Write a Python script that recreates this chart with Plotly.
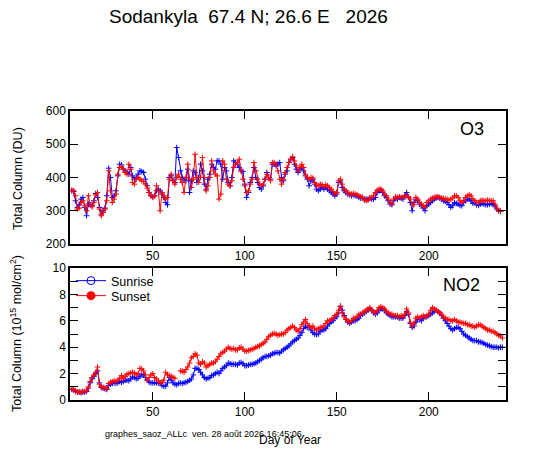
import plotly.graph_objects as go

# day numbers of the daily SAOZ measurements
o3_days = list(range(6, 240))
no2_days = list(range(6, 241))

# total ozone (DU)
o3_sunrise = [
    360, 358, 330, 310, 318, 335, 340, 310, 285, 320,
    318, 315, 330, 352, 340, 310, 290, 300, 308, 345,
    428, 400, 340, 345, 360, 405, 440, 438, 425, 420,
    415, 410, 430, 405, 395, 400, 410, 420, 418, 415,
    395, 375, 355, 345, 342, 345, 360, 365, 360, 350,
    340, 325, 318, 400, 405, 392, 385, 490, 460, 420,
    400, 395, 390, 425, 355, 390, 420, 415, 385, 400,
    440, 420, 380, 365, 395, 410, 440, 430, 425, 450,
    450, 440, 395, 430, 420, 385, 375, 400, 450, 445,
    440, 430, 420, 418, 380, 340, 355, 385, 400, 430,
    400, 385, 370, 365, 375, 395, 415, 400, 395, 440,
    440, 435, 440, 445, 400, 390, 410, 420, 445, 455,
    460, 440, 425, 415, 425, 430, 420, 405, 395, 375,
    390, 395, 380, 365, 360, 365, 370, 365, 370, 365,
    360, 355, 350, 345, 350, 385, 390, 370, 360, 355,
    350, 348, 345, 348, 345, 345, 340, 338, 340, 335,
    335, 335, 338, 335, 335, 340, 355, 360, 362, 355,
    345, 340, 330, 320, 318, 330, 338, 335, 340, 338,
    335, 345, 355, 340, 325, 300, 325, 335, 330, 320,
    315, 308, 300, 315, 320, 325, 330, 335, 338, 340,
    338, 335, 330, 328, 325, 318, 310, 315, 325, 322,
    320, 316, 315, 325, 330, 335, 335, 330, 322, 325,
    318, 316, 320, 322, 320, 318, 318, 320, 322, 318,
    315, 305, 300, 298,
]
o3_sunset = [
    362, 360, 345, 305, 308, 325, 330, 315, 300, 345,
    318, 312, 325, 348, 355, 305, 285, 295, 305, 330,
    420, 360, 325, 335, 350, 410, 430, 432, 425, 415,
    410, 440, 425, 385, 380, 395, 400, 395, 390, 388,
    380, 368, 355, 345, 340, 345, 375, 360, 300, 355,
    345, 335, 340, 395, 410, 390, 380, 400, 410, 395,
    385, 355, 400, 440, 395, 370, 395, 470, 400, 385,
    400, 460, 400, 360, 375, 400, 450, 420, 410, 405,
    335, 350, 450, 440, 395, 380, 375, 390, 430, 440,
    445, 455, 420, 395, 375, 355, 360, 380, 395, 445,
    420, 395, 380, 375, 380, 395, 410, 400, 390, 445,
    445, 440, 420, 395, 380, 395, 415, 430, 445, 455,
    462, 450, 435, 420, 430, 440, 430, 410, 400, 395,
    400, 398, 385, 375, 375, 380, 378, 372, 378, 375,
    370, 365, 358, 350, 355, 390, 395, 380, 365, 360,
    355, 350, 350, 352, 350, 348, 345, 342, 340, 332,
    330, 332, 338, 340, 345, 355, 362, 365, 365, 360,
    350, 345, 335, 325, 320, 335, 342, 340, 342, 340,
    340, 345, 345, 342, 335, 320, 318, 340, 335, 325,
    320, 315, 310, 325, 330, 335, 338, 340, 342, 342,
    340, 338, 337, 335, 335, 332, 335, 338, 345, 345,
    340, 330, 325, 330, 340, 345, 348, 345, 335, 330,
    325, 325, 330, 332, 330, 330, 332, 330, 330, 330,
    320, 308, 300, 298,
]

# NO2 vertical column (1e15 molec/cm2)
no2_sunrise = [
    0.8, 0.75, 0.65, 0.6, 0.6, 0.55, 0.6, 0.6, 0.65, 0.9,
    1.3, 1.6, 1.8, 2.0, 2.2, 1.3, 0.95, 0.9, 0.85, 0.8,
    1.1, 1.2, 1.25, 1.3, 1.25, 1.3, 1.4, 1.35, 1.4, 1.5,
    1.5, 1.45, 1.6, 1.75, 1.7, 1.6, 1.65, 1.8, 1.9, 1.95,
    1.7, 1.5, 1.35, 1.3, 1.3, 1.3, 1.3, 1.3, 1.25, 1.1,
    1.05, 1.05, 1.3, 1.7, 1.5, 1.3, 1.2, 1.15, 1.25, 1.3,
    1.25, 1.3, 1.35, 1.4, 1.5, 1.6, 1.9, 2.4, 2.4, 2.3,
    2.1, 1.9, 1.7, 1.6, 1.65, 1.7, 1.85, 1.9, 2.0, 2.1,
    2.0, 2.2, 2.4, 2.5, 2.6, 2.8, 2.75, 2.7, 2.7, 2.7,
    2.65, 2.8, 2.85, 2.75, 2.6, 2.6, 2.65, 2.7, 2.7, 2.75,
    2.8, 2.9, 3.0, 3.1, 3.2, 3.3, 3.3, 3.35, 3.4, 3.5,
    3.55, 3.6, 3.6, 3.55, 3.7, 3.8, 3.9, 4.0, 4.1, 4.25,
    4.4, 4.5, 4.6, 4.7, 4.9, 5.1, 5.4, 5.6, 5.5, 5.5,
    5.3, 5.1, 5.0, 4.95, 5.0, 5.2, 5.3, 5.3, 5.4, 5.6,
    5.8, 5.9, 6.0, 6.2, 6.3, 6.6, 7.1, 6.8, 6.4, 6.1,
    5.9, 5.8, 5.9, 6.0, 6.0, 6.1, 6.2, 6.4, 6.5, 6.6,
    6.7, 6.8, 6.9, 6.8, 6.6, 6.5, 6.6, 6.8, 6.9, 6.9,
    6.8, 6.6, 6.5, 6.4, 6.3, 6.3, 6.3, 6.3, 6.2, 6.2,
    6.2, 6.4, 6.7, 6.5, 5.8, 5.5, 5.6, 5.9, 6.1, 6.1,
    6.0, 6.2, 6.3, 6.3, 6.4, 6.5, 6.6, 6.7, 6.8, 6.7,
    6.6, 6.4, 6.2, 6.0, 5.8, 5.6, 5.4, 5.3, 5.4, 5.5,
    5.5, 5.4, 5.2, 5.0, 4.9, 4.8, 4.7, 4.6, 4.5, 4.5,
    4.5, 4.4, 4.4, 4.35, 4.3, 4.2, 4.15, 4.1, 4.05, 4.0,
    4.0, 4.0, 3.95, 4.0, 4.0,
]
no2_sunset = [
    0.85, 0.8, 0.7, 0.6, 0.6, 0.6, 0.65, 0.65, 0.7, 1.0,
    1.4, 1.7, 1.9, 2.1, 2.5, 1.2, 1.0, 0.95, 0.9, 0.85,
    1.25, 1.35, 1.4, 1.45, 1.4, 1.5, 1.65, 1.85, 1.6, 1.8,
    1.95, 2.0, 2.05, 2.1, 2.05, 1.9, 2.0, 2.4, 2.35, 2.2,
    1.9, 1.5, 1.7, 1.9, 2.0, 1.7, 1.6, 1.45, 1.3, 1.35,
    1.5, 2.1, 1.9, 1.85, 1.8, 1.7, 1.65, None, None, 2.2,
    2.2, 2.1, 2.3, 2.5, 2.8, 3.2, 3.3, 3.5, 3.4, 2.8,
    2.7, 2.9, 2.8, 2.5, 2.6, 2.7, 2.8, 2.8, 2.9, 3.1,
    3.3, 3.5, 3.6, 3.7, 3.85, 4.0, 3.9, 3.85, 3.9, 3.8,
    3.8, 3.95, 4.0, 3.85, 3.7, 3.7, 3.75, 3.8, 3.85, 3.9,
    4.0, 4.05, 4.1, 4.2, 4.3, 4.4, 4.6, 4.8, 4.9, 5.0,
    5.05, 5.0, 4.9, 4.95, 5.0, 5.0, 5.1, 5.3, 5.4, 5.5,
    5.6, 5.5, 5.3, 5.2, 5.4, 5.7, 5.9, 6.1, 5.8, 5.6,
    5.5, 5.6, 5.4, 5.3, 5.4, 5.5, 5.5, 5.6, 5.8, 6.0,
    6.0, 6.1, 6.2, 6.4, 6.5, 6.8, 7.1, 6.6, 6.3, 6.1,
    6.0, 5.9, 6.0, 6.2, 6.2, 6.3, 6.5, 6.5, 6.6, 6.7,
    6.8, 6.9, 7.0, 6.8, 6.7, 6.6, 6.8, 7.0, 7.05, 7.0,
    6.9, 6.7, 6.6, 6.5, 6.5, 6.4, 6.4, 6.4, 6.3, 6.4,
    6.3, 6.5, 6.9, 6.6, 5.9, 5.6, 5.8, 6.2, 6.3, 6.2,
    6.3, 6.4, 6.3, 6.4, 6.5, 6.8, 7.0, 6.9, 6.8, 6.7,
    6.6, 6.5, 6.3, 6.2, 6.1, 6.1, 6.0, 6.0, 6.1, 6.0,
    5.9, 5.9, 5.85, 5.8, 5.8, 5.7, 5.7, 5.6, 5.6, 5.5,
    5.6, 5.7, 5.7, 5.6, 5.5, 5.4, 5.3, 5.3, 5.2, 5.2,
    5.1, 5.0, 4.9, 4.85, 4.7,
]

blue = "#0000ff"
red = "#ff0000"
font = "Liberation Sans, Arial, sans-serif"

# the page body has an 8px margin, so the figure is made smaller by that much
OFF = 8
# plot frame in the reference picture: x 70..506, y 111..400
X0, X1, Y0, Y1 = 70, 506, 111, 400


def px(x):
    return (x - X0) / (X1 - X0)


def py(y):
    return (Y1 - y) / (Y1 - Y0)


fig = go.Figure()


def add_series(x, y, color, xa, ya):
    fig.add_trace(go.Scatter(
        x=x, y=y, xaxis=xa, yaxis=ya, mode="lines+markers",
        line=dict(color=color, width=1),
        marker=dict(symbol="cross-thin", size=4, line=dict(color=color, width=1)),
        showlegend=False, connectgaps=False,
    ))


add_series(o3_days, o3_sunrise, blue, "x", "y")
add_series(o3_days, o3_sunset, red, "x", "y")
add_series(no2_days, no2_sunrise, blue, "x2", "y2")
add_series(no2_days, no2_sunset, red, "x2", "y2")

# legend entries (circle symbols as in the original)
fig.add_trace(go.Scatter(x=[None], y=[None], xaxis="x2", yaxis="y2", name="Sunrise",
                         mode="lines+markers", line=dict(color=blue, width=1),
                         marker=dict(symbol="circle-open", size=8, color=blue,
                                     line=dict(width=1)),
                         legend="legend"))
fig.add_trace(go.Scatter(x=[None], y=[None], xaxis="x2", yaxis="y2", name="Sunset",
                         mode="lines+markers", line=dict(color=red, width=1),
                         marker=dict(symbol="circle", size=9, color=red),
                         legend="legend2"))

axis_common = dict(
    showline=True, linecolor="black", linewidth=1.5, mirror="ticks",
    ticks="inside", ticklen=8, tickwidth=1, tickcolor="black",
    showgrid=False, zeroline=False,
    tickfont=dict(family=font, size=12, color="black"),
)
leg_common = dict(xanchor="left", yanchor="middle", bgcolor="rgba(0,0,0,0)",
                  font=dict(family=font, size=12.5, color="black"))

fig.update_layout(
    width=540 - OFF, height=453 - OFF,
    margin=dict(l=X0 - OFF, r=540 - X1, t=Y0 - OFF, b=453 - Y1),
    paper_bgcolor="white", plot_bgcolor="white",
    font=dict(family=font, color="black"),
    xaxis=dict(axis_common, domain=[0, 1], anchor="y", range=[5, 242], dtick=50),
    yaxis=dict(axis_common, domain=[py(244), 1], anchor="x", range=[200, 600], dtick=100),
    xaxis2=dict(axis_common, domain=[0, 1], anchor="y2", range=[5, 242], dtick=50),
    yaxis2=dict(axis_common, domain=[0, py(268)], anchor="x2", range=[0, 10], dtick=2,
                minor=dict(dtick=1, ticks="inside", ticklen=8, tickcolor="black")),
    legend=dict(leg_common, x=px(71), y=py(281)),
    legend2=dict(leg_common, x=px(71), y=py(296)),
)


def label(text, x, y, size, angle=0, xanchor="center"):
    fig.add_annotation(text=text, xref="paper", yref="paper", x=px(x), y=py(y),
                       xanchor=xanchor, yanchor="middle", textangle=angle,
                       showarrow=False, font=dict(family=font, size=size, color="black"))


label("Sodankyla\u00a0\u00a067.4 N; 26.6 E\u00a0\u00a0\u00a02026", 248, 17, 19)
label("O3", 472, 129, 18)
label("NO2", 461, 285, 18)
label("Total Column (DU)", 18, 179, 12.5, angle=-90)
label("Total Column (10<sup>15</sup> mol/cm<sup>2</sup>)", 16, 334, 12.5, angle=-90)
label("Day of Year", 290, 440, 12)
label("graphes_saoz_ALLc\u00a0\u00a0ven. 28 août 2026 16:45:06", 103, 434, 9,
      xanchor="left")

fig.write_html("out.html")
